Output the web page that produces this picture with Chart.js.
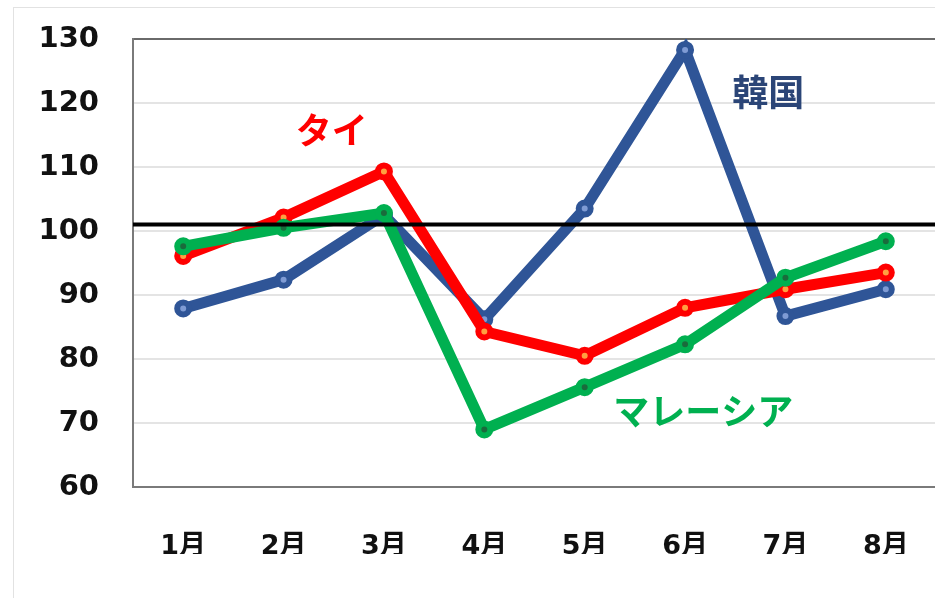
<!DOCTYPE html>
<html>
<head>
<meta charset="utf-8">
<script src="https://cdn.jsdelivr.net/npm/chart.js@4.4.1/dist/chart.umd.min.js"></script>
<style>
  body { margin: 0; overflow: hidden; background: #fff; }
  #frame { position: absolute; left: 13px; top: 7px; width: 940px; height: 600px;
           border-left: 1px solid #e2e2e2; border-top: 1px solid #e2e2e2; }
  #wrap { position: absolute; left: 0; top: 0; width: 948px; height: 598px; }
</style>
</head>
<body>
<div id="frame"></div>
<div id="wrap"><canvas id="chart" width="948" height="598"></canvas></div>
<script>
const months = ["1月", "2月", "3月", "4月", "5月", "6月", "7月", "8月"];
const korea = [87.9, 92.4, 102.5, 86.2, 103.5, 128.3, 86.7, 90.9];
const thai = [96.1, 102.1, 109.3, 84.3, 80.5, 88.0, 90.9, 93.5];
const malaysia = [97.6, 100.5, 102.8, 69.0, 75.6, 82.3, 92.7, 98.4];
const refLine = 101;
const yMin = 60, yMax = 130, yStep = 10;

// series name labels: [text, category index, value, colour]
const seriesLabels = [
  ["タイ", 1.48, 115.8, "#ff0000"],
  ["韓国", 5.83, 121.6, "#2b4577"],
  ["マレーシア", 5.18, 71.9, "#00b050"]
];

const numFont = "'DejaVu Sans', 'Noto Sans CJK JP', sans-serif";
const jpFont = "'Noto Sans CJK JP', 'DejaVu Sans', sans-serif";

const overlay = {
  id: "overlay",
  afterDatasetsDraw(chart) {
    const { ctx, chartArea, scales } = chart;
    const y = scales.y.getPixelForValue(refLine);
    ctx.save();
    ctx.strokeStyle = "#000";
    ctx.lineWidth = 4;
    ctx.beginPath();
    ctx.moveTo(chartArea.left, y);
    ctx.lineTo(chartArea.right + 10, y);
    ctx.stroke();

    ctx.font = "bold 36px " + jpFont;
    ctx.textAlign = "center";
    ctx.textBaseline = "middle";
    const x0 = scales.x.getPixelForValue(0);
    const x1 = scales.x.getPixelForValue(1);
    seriesLabels.forEach(([text, xi, v, color]) => {
      ctx.fillStyle = color;
      ctx.fillText(text, x0 + (x1 - x0) * xi, scales.y.getPixelForValue(v));
    });
    ctx.restore();
  }
};

function series(data, color, center, order) {
  return {
    data: data,
    borderColor: color,
    borderWidth: 11,
    pointRadius: 6,
    pointBorderWidth: 6,
    pointBorderColor: color,
    pointBackgroundColor: center,
    tension: 0,
    order: order
  };
}

new Chart(document.getElementById("chart"), {
  type: "line",
  data: {
    labels: months,
    datasets: [
      series(korea, "#2f5597", "#7f9bd4", 3),
      series(thai, "#ff0000", "#ffa040", 2),
      series(malaysia, "#00b050", "#1a6b3c", 1)
    ]
  },
  options: {
    responsive: false,
    animation: false,
    layout: { padding: { top: 39, right: 4, bottom: 44, left: 0 } },
    plugins: { legend: { display: false }, tooltip: { enabled: false } },
    scales: {
      x: {
        offset: true,
        afterFit(scale) {
          scale.height = 67;
          scale.paddingLeft = 0;
          scale.paddingRight = 0;
        },
        grid: { display: false },
        border: { display: true, color: "#7a7a7a", width: 2 },
        ticks: {
          padding: 36,
          color: "#111",
          font: { family: numFont, size: 27, weight: "bold" }
        }
      },
      y: {
        min: yMin,
        max: yMax,
        afterFit(scale) {
          scale.width = 133;
          scale.paddingTop = 0;
          scale.paddingBottom = 0;
        },
        border: { display: true, color: "#7a7a7a", width: 2 },
        grid: {
          drawTicks: false,
          lineWidth: 2,
          color: (c) => (c.tick && c.tick.value === yMax ? "#6a6a6a" : "#e4e4e4")
        },
        ticks: {
          stepSize: yStep,
          padding: 34,
          color: "#111",
          font: { family: numFont, size: 29, weight: "bold" }
        }
      }
    }
  },
  plugins: [overlay]
});
</script>
</body>
</html>
